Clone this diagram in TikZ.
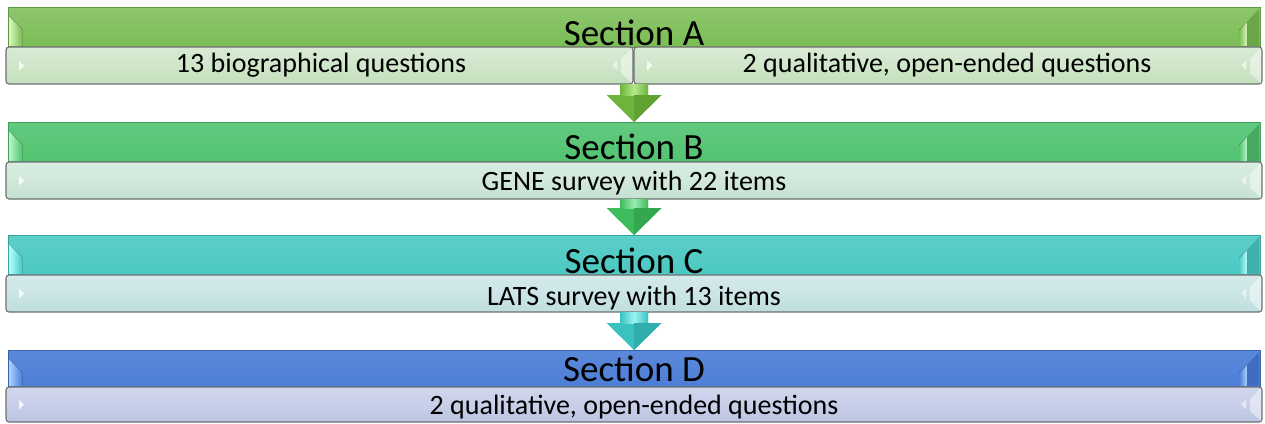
\documentclass[tikz,border=0pt]{standalone}
\usepackage{fontspec}
\setmainfont{Carlito}
\usetikzlibrary{calc}
\definecolor{Abase}{HTML}{7BBD55}\definecolor{Atop}{HTML}{8DC66D}\definecolor{Aline}{HTML}{5E9A40}\definecolor{Alight}{HTML}{D9F7BC}\definecolor{Adark}{HTML}{69A748}
\definecolor{Bbase}{HTML}{52C370}\definecolor{Btop}{HTML}{63C97F}\definecolor{Bline}{HTML}{3FA158}\definecolor{Blight}{HTML}{B9F6CB}\definecolor{Bdark}{HTML}{45AA60}
\definecolor{Cbase}{HTML}{4BC9C2}\definecolor{Ctop}{HTML}{5DCEC8}\definecolor{Cline}{HTML}{37A39E}\definecolor{Clight}{HTML}{B4FFFF}\definecolor{Cdark}{HTML}{3FB0AA}
\definecolor{Dbase}{HTML}{4D7ED6}\definecolor{Dtop}{HTML}{5B89DA}\definecolor{Dline}{HTML}{3A63AE}\definecolor{Dlight}{HTML}{A9D2FF}\definecolor{Ddark}{HTML}{406DC0}
\definecolor{Asub}{HTML}{C3DFBC}\definecolor{Asubl}{HTML}{D8EBD3}
\definecolor{Bsub}{HTML}{C4E1D0}\definecolor{Bsubl}{HTML}{D9EDE1}
\definecolor{Csub}{HTML}{BFDEDF}\definecolor{Csubl}{HTML}{D4EAEB}
\definecolor{Dsub}{HTML}{BCC4E2}\definecolor{Dsubl}{HTML}{D0D6EC}
\definecolor{subline}{HTML}{6E6E72}
\definecolor{arA}{HTML}{6DB43C}\definecolor{arAl}{HTML}{B4E88A}\definecolor{arAd}{HTML}{5FA232}
\definecolor{arB}{HTML}{3EBB5A}\definecolor{arBl}{HTML}{98EEB0}\definecolor{arBd}{HTML}{34A84E}
\definecolor{arC}{HTML}{38C2C0}\definecolor{arCl}{HTML}{9AF4F4}\definecolor{arCd}{HTML}{2FAEAC}
\tikzset{
  mainbar/.style={draw=#1line, line width=0.7pt, top color=#1top, bottom color=#1base, minimum height=40pt, inner sep=0pt, outer sep=0pt},
  subbar/.style={draw=subline, line width=1.1pt, rounded corners=3pt, top color=#1subl, bottom color=#1sub, middle color=#1subl!60!#1sub, minimum height=37pt, inner sep=0pt, outer sep=0pt},
  titletext/.style={font=\fontsize{37}{42}\selectfont, anchor=base, inner sep=0pt},
  subtext/.style={font=\fontsize{28}{33}\selectfont, anchor=base, inner sep=0pt},
}
\newcommand\mainbevel[4]{%
  \fill[left color=#2, right color=#3] ([shift={(1,9)}]#1.north west) -- ([shift={(14,22)}]#1.north west) -- ([shift={(14,-1)}]#1.south west) -- ([shift={(1,-1)}]#1.south west) -- cycle;
  \fill[#4] ([shift={(-1,2)}]#1.north east) -- ([shift={(-13,15)}]#1.north east) -- ([shift={(-13,-1)}]#1.south east) -- ([shift={(-1,-1)}]#1.south east) -- cycle;
  \fill[left color=#3, right color=#2] ([shift={(-13,15)}]#1.north east) -- ([shift={(-21,23)}]#1.north east) -- ([shift={(-21,-1)}]#1.south east) -- ([shift={(-13,-1)}]#1.south east) -- cycle;
}
\newcommand\subleft[1]{%
  \fill[white, opacity=0.8] ([shift={(13,-5)}]#1.west) -- ([shift={(18,0)}]#1.west) -- ([shift={(13,5)}]#1.west) -- cycle;
}
\newcommand\subright[1]{%
  \fill[white, opacity=0.45] ([shift={(-1,1)}]#1.north east) -- ([shift={(-12,12)}]#1.north east) -- ([shift={(-12,-11)}]#1.south east) -- ([shift={(-1,-1)}]#1.south east) -- cycle;
  \fill[white, opacity=0.55] ([shift={(-16,-5)}]#1.east) -- ([shift={(-21,0)}]#1.east) -- ([shift={(-16,5)}]#1.east) -- cycle;
}
\newcommand\blockarrow[5]{% start, end, base, light, dark
  \fill[#3] ($(#1 -| #2)+(-14,0)$) -- ($(#1 -| #2)+(14,0)$) -- ($(#2)+(14,-27)$) -- ($(#2)+(27.5,-27)$) -- (#2) -- ($(#2)+(-27.5,-27)$) -- ($(#2)+(-14,-27)$) -- cycle;
  \shade[left color=#3, right color=#3, middle color=#4] ($(#1 -| #2)+(-14,0)$) rectangle ($(#2)+(14,-27)$);
  \fill[#5] ($(#2)+(0,-27)$) -- ($(#2)+(27.5,-27)$) -- (#2) -- cycle;
}
\begin{document}
\begin{tikzpicture}[x=1pt,y=-1pt]
\useasboundingbox (0,0) rectangle (1265,423);
% main bars
\node[mainbar=A, minimum width=1252pt] (barA) at (634,27) {};
\node[mainbar=B, minimum width=1252pt] (barB) at (634,142) {};
\node[mainbar=C, minimum width=1252pt] (barC) at (634,255) {};
\node[mainbar=D, minimum width=1252pt, minimum height=37pt] (barD) at (634,368.5) {};
\mainbevel{barA}{Alight}{Abase}{Adark}
\mainbevel{barB}{Blight}{Bbase}{Bdark}
\mainbevel{barC}{Clight}{Cbase}{Cdark}
\mainbevel{barD}{Dlight}{Dbase}{Ddark}
% sub bars
\node[subbar=A, minimum width=627pt] (subAl) at (319.5,65.5) {};
\node[subbar=A, minimum width=628pt] (subAr) at (948,65.5) {};
\node[subbar=B, minimum width=1256pt] (subB) at (634,180.5) {};
\node[subbar=C, minimum width=1256pt] (subC) at (634,293.5) {};
\node[subbar=D, minimum width=1256pt, minimum height=35pt] (subD) at (634,404.5) {};
\subleft{subAl}\subright{subAl}
\subleft{subAr}\subright{subAr}
\subleft{subB}\subright{subB}
\subleft{subC}\subright{subC}
\subleft{subD}\subright{subD}
% titles
\node[titletext] (tA) at (634,45) {Section A};
\node[titletext] (tB) at (634,159) {Section B};
\node[titletext] (tC) at (634,273) {Section C};
\node[titletext] (tD) at (634,381) {Section D};
% sub texts
\node[subtext] (sAl) at (321,72) {13 biographical questions};
\node[subtext] (sAr) at (947,72) {2 qualitative, open-ended questions};
\node[subtext] (sB) at (634,190) {GENE survey with 22 items};
\node[subtext] (sC) at (634,305) {LATS survey with 13 items};
\node[subtext] (sD) at (634,414) {2 qualitative, open-ended questions};
% arrows
\blockarrow{subAr.south west}{barB.north}{arA}{arAl}{arAd}
\blockarrow{subB.south}{barC.north}{arB}{arBl}{arBd}
\blockarrow{subC.south}{barD.north}{arC}{arCl}{arCd}
\end{tikzpicture}
\end{document}
